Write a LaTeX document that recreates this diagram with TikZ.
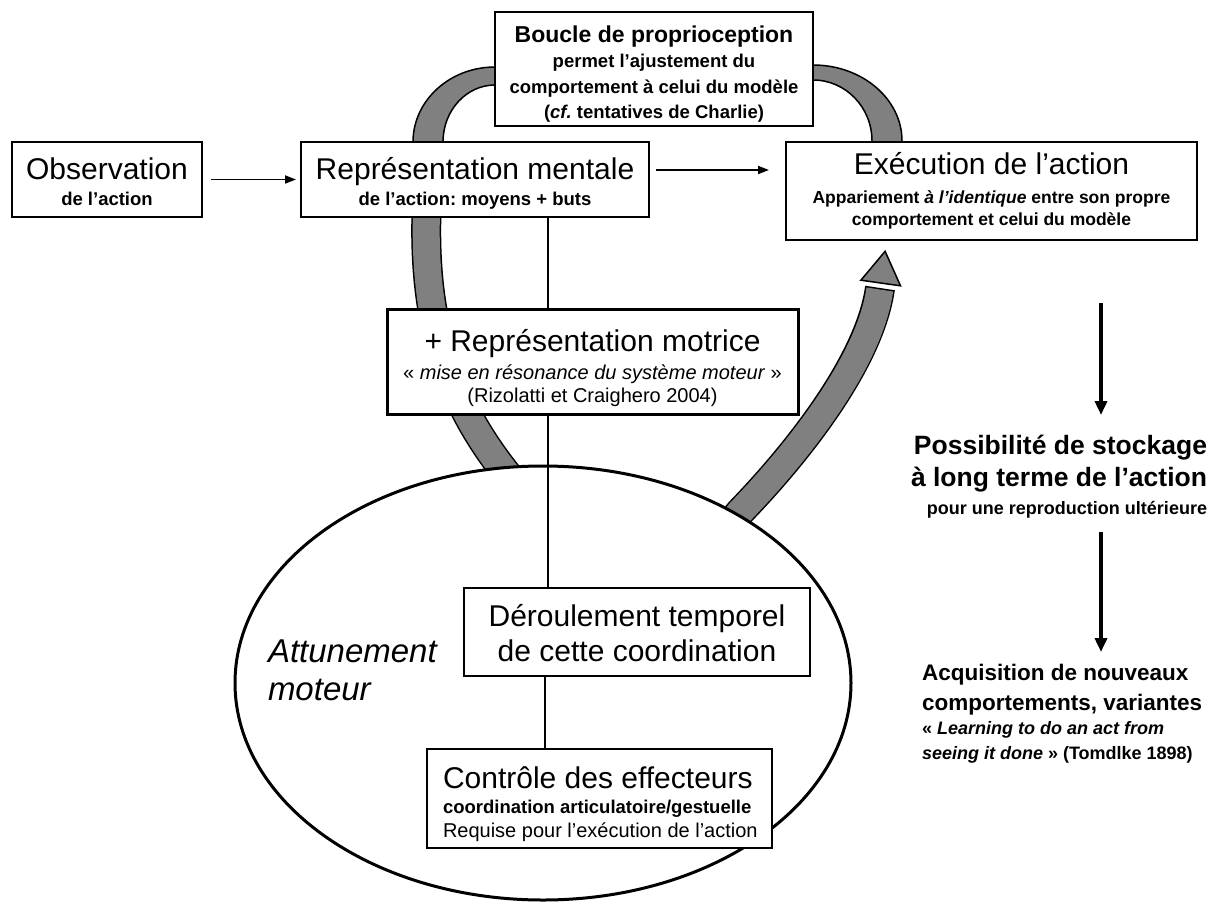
\documentclass[tikz,border=0pt]{standalone}
\usepackage{fontspec}
\setmainfont{Liberation Sans}
\usetikzlibrary{arrows.meta,shapes.geometric}
\definecolor{bandgray}{RGB}{128,128,128}
\newcommand\szBig{\fontsize{30}{36}\selectfont}
\newcommand\szSub{\fontsize{18.5}{22}\selectfont\bfseries}
\newcommand\szExe{\fontsize{17.5}{21}\selectfont\bfseries}
\newcommand\szReg{\fontsize{20}{24}\selectfont}
\newcommand\szRight{\fontsize{26.5}{32}\selectfont\bfseries}
\newcommand\szAcq{\fontsize{22.5}{27}\selectfont\bfseries}
\newcommand\szSmR{\fontsize{18}{22}\selectfont\bfseries}
\newcommand\szAtt{\fontsize{33}{40}\selectfont\itshape}
\frenchspacing
\begin{document}
\begin{tikzpicture}[x=1pt,y=-1pt,
  every node/.style={inner sep=0pt,outer sep=0pt},
  box/.style={draw,rectangle,line width=2pt,fill=white},
  tb/.style={anchor=base},
  tbw/.style={anchor=base west},
  tbe/.style={anchor=base east},
  bandout/.style={line width=30pt,black,line join=round},
  bandin/.style={line width=27pt,bandgray,line join=round},
  thinarr/.style={line width=1.8pt,-{Triangle[length=11pt,width=8pt]}},
  thickarr/.style={line width=3.5pt,-{Triangle[length=14pt,width=12pt]}}]
\fill[white] (0,0) rectangle (1218,905);
\useasboundingbox (0,0) rectangle (1218,905);

% grey proprioception loop (top arcs)
\filldraw[fill=bandgray,draw=black,line width=1.5pt]
  (413,160) -- (413,142) .. controls (413,100.6) and (449.7,67) .. (495,67)
  -- (520,67) -- (520,85) -- (495,85)
  .. controls (466.3,85) and (443,110.5) .. (443,142) -- (443,160) -- cycle;
\filldraw[fill=bandgray,draw=black,line width=1.5pt]
  (790,65) -- (813,65) .. controls (862.2,65) and (902,99) .. (902,141)
  -- (902,160) -- (872,160) -- (872,141)
  .. controls (872,107.3) and (845.6,80) .. (813,80) -- (790,80) -- cycle;

% grey band from mental representation down to the ellipse
\draw[bandout] (427,200) .. controls (420,340) and (460,420) .. (520,490);
\draw[bandin]  (427,200) .. controls (420,340) and (460,420) .. (520,490);

% grey band from ellipse up to execution
\draw[bandout] (713,545) -- (740,512) .. controls (800,450) and (870,360) .. (880,288);
\draw[bandin,shorten >=1.5pt] (713,545) -- (740,512) .. controls (800,450) and (870,360) .. (880,288);
\filldraw[fill=bandgray,draw=black,line width=1.5pt,line join=miter]
  (885.1,251.3) -- (900.5,285.8) -- (860.9,280.2) -- cycle;

% ellipse
\node[draw,ellipse,line width=3pt,fill=white,minimum width=616pt,minimum height=434pt] (attune) at (543,683) {};

% boxes
\node[box,minimum width=190pt,minimum height=75pt] (obs) at (107,179.5) {};
\node[box,minimum width=348pt,minimum height=75pt] (rep) at (475,179.5) {};
\node[box,minimum width=411pt,minimum height=98pt] (exec) at (991.5,191) {};
\node[box,minimum width=318pt,minimum height=114pt] (topbox) at (654,69) {};
\node[box,line width=3pt,minimum width=411pt,minimum height=105pt] (motrice) at (592.5,361.5) {};
\node[box,minimum width=346pt,minimum height=88pt] (deroul) at (637,632) {};
\node[box,minimum width=345pt,minimum height=99pt] (ctrl) at (599.5,798.5) {};

% connectors
\coordinate (lx) at (548,0);
\coordinate (lx2) at (545,0);
\draw[line width=2pt] (rep.south -| lx) -- (motrice.north -| lx);
\draw[line width=2pt] (motrice.south -| lx) -- (deroul.north -| lx);
\draw[line width=2pt] (deroul.south -| lx2) -- (ctrl.north -| lx2);
\draw[thinarr,shorten <=9pt,shorten >=5pt] (obs.east) -- (rep.west);
\coordinate (ay) at (0,170);
\draw[thinarr,shorten <=7pt,shorten >=17pt] (rep.east |- ay) -- (exec.west |- ay);
\coordinate (r1a) at (1101,303);
\coordinate (r1b) at (1101,415);
\coordinate (r2a) at (1101,532);
\coordinate (r2b) at (1101,652);
\draw[thickarr] (r1a) -- (r1b);
\draw[thickarr] (r2a) -- (r2b);

% texts
\node[tb] (tobs1) at (107,179) {\szBig Observation};
\node[tb] (tobs2) at (107,205.5) {\szSub de l’action};
\node[tb] (trep1) at (475,179) {\szBig Représentation mentale};
\node[tb] (trep2) at (475,205.5) {\szSub de l’action: moyens + buts};
\node[tb] (tex1) at (991.5,174) {\szBig Exécution de l’action};
\node[tb] (tex2) at (991.5,203) {\szExe Appariement \textit{à l’identique} entre son propre};
\node[tb] (tex3) at (991.5,225) {\szExe comportement et celui du modèle};
\node[tb] (tt1) at (654,42) {\fontsize{23}{27}\selectfont\bfseries Boucle de proprioception};
\node[tb] (tt2) at (654,67.5) {\szSub permet l’ajustement du};
\node[tb] (tt3) at (654,93.5) {\szSub comportement à celui du modèle};
\node[tb] (tt4) at (654,118.5) {\szSub (\textit{cf.} tentatives de Charlie)};
\node[tb] (tm1) at (592.5,351) {\szBig + Représentation motrice};
\node[tb] (tm2) at (592.5,379) {\szReg « \textit{mise en résonance du système moteur} »};
\node[tb] (tm3) at (592.5,402) {\szReg (Rizolatti et Craighero 2004)};
\node[tb] (td1) at (637,626) {\szBig Déroulement temporel};
\node[tb] (td2) at (637,661) {\szBig de cette coordination};
\node[tbw] (tc1) at (443,788) {\szBig Contrôle des effecteurs};
\node[tbw] (tc2) at (443,813.5) {\szSub coordination articulatoire/gestuelle};
\node[tbw] (tc3) at (443,837) {\szReg Requise pour l’exécution de l’action};
\node[tbw] (ta1) at (268,662) {\szAtt Attunement};
\node[tbw] (ta2) at (268,700) {\szAtt moteur};
\node[tbe] (tp1) at (1207,454.5) {\szRight Possibilité de stockage};
\node[tbe] (tp2) at (1207,486.5) {\szRight à long terme de l’action};
\node[tbe] (tp3) at (1207,514.5) {\szSmR pour une reproduction ultérieure};
\node[tbw] (tq1) at (922,680) {\szAcq Acquisition de nouveaux};
\node[tbw] (tq2) at (922,710) {\szAcq comportements, variantes};
\node[tbw] (tq3) at (922,734.5) {\szSmR « \textit{Learning to do an act from}};
\node[tbw] (tq4) at (922,759.5) {\szSmR \textit{seeing it done} » (Tomdlke 1898)};
\end{tikzpicture}
\end{document}
